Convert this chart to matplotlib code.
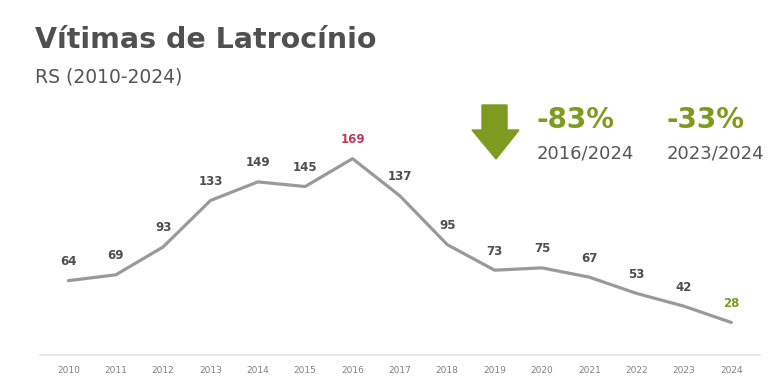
import matplotlib
matplotlib.use("Agg")
import matplotlib.pyplot as plt
from matplotlib.patches import Polygon

years = [str(y) for y in range(2010, 2025)]
victims = [64, 69, 93, 133, 149, 145, 169, 137, 95, 73, 75, 67, 53, 42, 28]
title = "Vítimas de Latrocínio"
subtitle = "RS (2010-2024)"
changes = ["-83%", "-33%"]
periods = ["2016/2024", "2023/2024"]

GREEN = "#7f9b1f"
RED = "#c0395c"
DARK = "#4d4d4d"
LINE = "#9a9a9a"

fig = plt.figure(figsize=(7.69, 3.86), dpi=100)
ax = fig.add_axes([0.052, 0.0803, 0.936, 0.602])

x = list(range(len(years)))
ax.plot(x, victims, color=LINE, lw=2.3, solid_joinstyle="round", solid_capstyle="round")

for i, v in enumerate(victims):
    color = DARK
    if i == victims.index(max(victims)):
        color = RED
    elif i == len(victims) - 1:
        color = GREEN
    ax.annotate(str(v), (i, v), xytext=(0, 9), textcoords="offset points",
                ha="center", va="bottom", fontsize=8.5, fontweight="bold", color=color)

ax.set_xlim(-0.6, 14.6)
ax.set_ylim(0, 200)
ax.set_xticks(x)
ax.set_xticklabels(years, fontsize=6.5, color="#808080")
ax.tick_params(axis="x", length=0, pad=8)
ax.set_yticks([])
for side in ["left", "right", "top"]:
    ax.spines[side].set_visible(False)
ax.spines["bottom"].set_color("#e6e6e6")
ax.spines["bottom"].set_linewidth(1.2)

# titles
fig.text(35 / 769, 1 - 40 / 386, title, fontsize=20.5, fontweight="bold",
         color="#505050", va="center", ha="left")
fig.text(35 / 769, 1 - 77 / 386, subtitle, fontsize=13.5, color="#555555",
         va="center", ha="left")

# down arrow
arrow_px = [(482, 105), (507, 105), (507, 130), (519, 130), (496, 159),
            (472, 130), (482, 130)]
arrow = Polygon([(px / 769, 1 - py / 386) for px, py in arrow_px],
                closed=True, color=GREEN, transform=fig.transFigure)
fig.patches.append(arrow)

for xpos, ch, per in zip([537, 667], changes, periods):
    fig.text(xpos / 769, 1 - 120 / 386, ch, fontsize=20, fontweight="bold",
             color=GREEN, va="center", ha="left")
    fig.text(xpos / 769, 1 - 154 / 386, per, fontsize=13, color="#555555",
             va="center", ha="left")

fig.savefig("out.png", dpi=100, facecolor="white")
